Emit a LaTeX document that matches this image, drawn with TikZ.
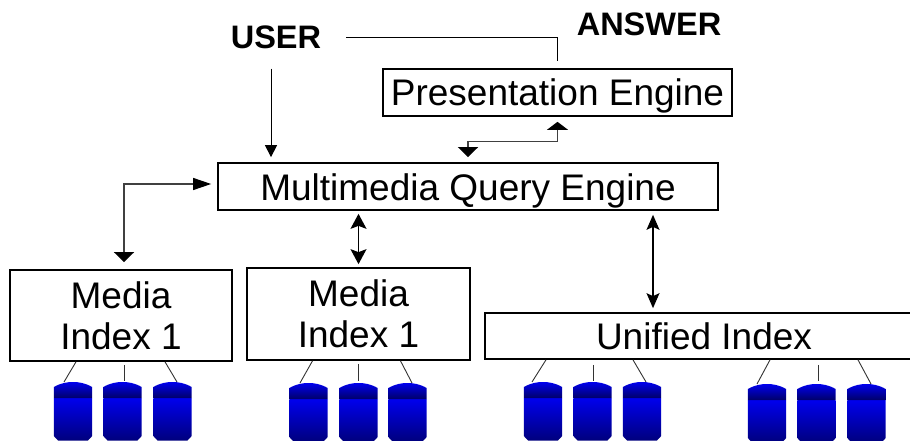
\documentclass[tikz,border=0pt]{standalone}
\usepackage{fontspec}
\setmainfont{Liberation Sans}
\usetikzlibrary{arrows.meta}
\definecolor{dbhi}{RGB}{0,0,238}
\definecolor{dbband}{RGB}{0,0,105}
\definecolor{dblow}{RGB}{0,0,125}
\tikzset{
  box/.style={draw=black,line width=1.7pt,rectangle,inner sep=0pt,align=center,font=\fontsize{37}{41}\selectfont},
  oneline/.style={text height=35pt,text depth=8pt},
  label/.style={inner sep=0pt,font=\bfseries\fontsize{32.5}{32.5}\selectfont},
  thin line/.style={draw=black,line width=0.8pt},
  link/.style={draw=black!75,line width=1.1pt},
  stub/.style={draw=black!80,line width=0.9pt},
  cylnode/.style={rectangle,inner sep=0pt,minimum width=38.5pt,minimum height=59pt,anchor=north}
}
\newcommand{\dbcyl}[3]{%
  \begin{scope}[shift={(#2,#3)}]
    \path[top color=dbhi,bottom color=dblow] (-19.2,16) -- (19.2,16) -- (19.2,54) -- (15,58.5) -- (-15,58.5) -- (-19.2,54) -- cycle;
    \path[top color=dbhi,bottom color=dbband] (-19.2,16) -- (-19.2,5) .. controls (-12,1) and (-6,0) .. (0,0) .. controls (6,0) and (12,1) .. (19.2,5) -- (19.2,16) -- cycle;
    \node[cylnode] (#1) at (0,0) {};
  \end{scope}}
\begin{document}
\begin{tikzpicture}[x=1pt,y=-1pt]
\clip (0,0) rectangle (910,441);
\useasboundingbox (0,0) rectangle (910,441);
\node[label] (user) at (276,37) {USER};
\node[label] (answer) at (649,24) {ANSWER};
\node[box,oneline,minimum width=349pt,minimum height=47pt] (pe) at (557.5,92.5) {Presentation Engine};
\node[box,oneline,minimum width=500pt,minimum height=47pt] (mq) at (468,186.5) {Multimedia Query Engine};
\node[box,minimum width=222pt,minimum height=91pt] (m1) at (121,315.5) {Media\\Index 1};
\node[box,minimum width=223pt,minimum height=92pt] (m2) at (358.5,314) {Media\\Index 1};
\node[box,minimum width=438pt,minimum height=46pt] (un) at (704,336) {Unified Index};

\dbcyl{c11}{73}{382}\dbcyl{c12}{122.5}{382}\dbcyl{c13}{172.5}{382}
\dbcyl{c21}{308.5}{383}\dbcyl{c22}{358.5}{383}\dbcyl{c23}{407.5}{383}
\dbcyl{c31}{543}{382}\dbcyl{c32}{592.5}{382}\dbcyl{c33}{642}{382}
\dbcyl{c41}{767}{384}\dbcyl{c42}{816.5}{384}\dbcyl{c43}{866.5}{384}

% user and answer
\draw[thin line,shorten <=25pt,shorten >=7pt] (user.east) -- (user.east -| pe.north) -- (pe.north);
\coordinate (ua) at ([xshift=-5pt]user.south);
\draw[thin line,shorten <=20pt,shorten >=5pt,-{Triangle[length=12pt,width=12pt]}] (ua) -- (ua |- mq.north);
% presentation <-> query
\draw[link,shorten <=5pt,shorten >=5pt,{Triangle[color=black,fill=black,length=8pt,width=21pt]}-{Triangle[color=black,fill=black,length=10pt,width=20pt]}] (pe.south) -- ++(0,25) -| (mq.north);
% query <-> media 1
\coordinate (lq) at ([yshift=2.5pt]mq.west);
\coordinate (lm) at ([xshift=3pt]m1.north);
\draw[link,shorten <=6pt,shorten >=7pt,{Triangle[color=black,fill=black,length=18pt,width=12pt]}-{Triangle[color=black,fill=black,length=10pt,width=20pt]}] (lq) -| (lm);
% query <-> media 2
\draw[draw=black,line width=1.4pt,shorten <=3pt,shorten >=3pt,{Stealth[length=15pt,width=16pt,inset=3pt]}-{Stealth[length=15pt,width=16pt,inset=3pt]}] (m2.north |- mq.south) -- (m2.north);
% query <-> unified
\coordinate (ru) at ([xshift=-51pt]un.north);
\draw[draw=black,line width=1.1pt,shorten <=4pt,shorten >=4pt,{Stealth[length=15pt,width=13pt,inset=3pt]}-{Stealth[length=15pt,width=13pt,inset=3pt]}] (ru |- mq.south) -- (ru);

% index to disks
\draw[stub] ([xshift=-45pt]m1.south) -- ([xshift=-9pt]c11.north);
\draw[stub,shorten <=3pt,shorten >=1pt] ([xshift=3pt]m1.south) -- ([xshift=1.5pt]c12.north);
\draw[stub] ([xshift=44pt]m1.south) -- ([xshift=4.5pt]c13.north);
\draw[stub] ([xshift=-46pt]m2.south) -- ([xshift=-8.5pt]c21.north);
\draw[stub,shorten <=3pt,shorten >=2pt] (m2.south) -- (c22.north);
\draw[stub] ([xshift=42pt]m2.south) -- ([xshift=4.5pt]c23.north);
\draw[stub] ([xshift=-158pt]un.south) -- ([xshift=-11pt]c31.north);
\draw[stub,shorten <=5pt,shorten >=1pt] ([xshift=-111pt]un.south) -- ([xshift=0.5pt]c32.north);
\draw[stub] ([xshift=-71pt]un.south) -- ([xshift=4pt]c33.north);
\draw[stub] ([xshift=66pt]un.south) -- ([xshift=-10pt]c41.north);
\draw[stub,shorten <=5pt,shorten >=3pt] ([xshift=114pt]un.south) -- ([xshift=1.5pt]c42.north);
\draw[stub] ([xshift=154pt]un.south) -- ([xshift=4.5pt]c43.north);
\end{tikzpicture}
\end{document}
